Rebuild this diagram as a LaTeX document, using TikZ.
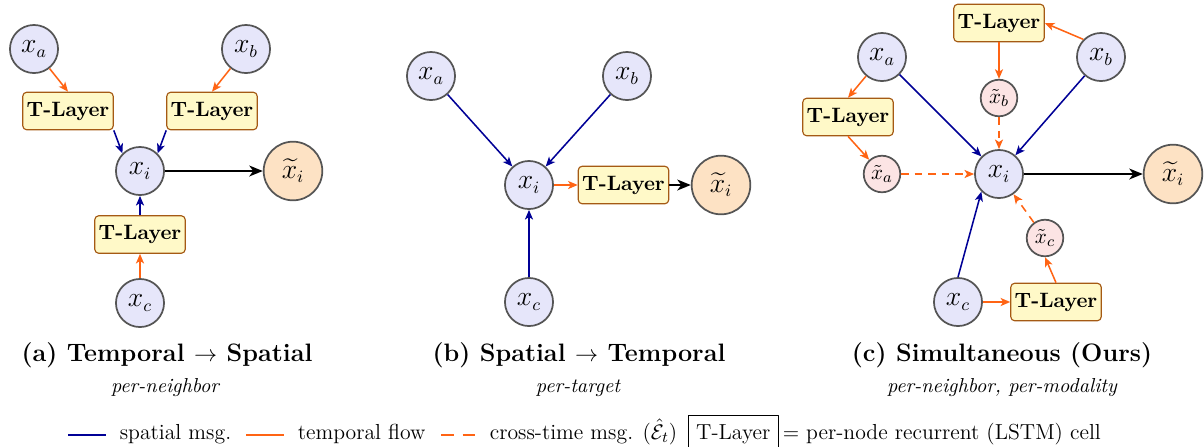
\documentclass[tikz,border=0pt]{standalone}
\usepackage{amsmath,amssymb}
\usetikzlibrary{arrows.meta}
\definecolor{nodegray}{RGB}{85,85,85}
\definecolor{nodefill}{RGB}{230,230,250}
\definecolor{outfill}{RGB}{253,226,196}
\definecolor{tilfill}{RGB}{252,228,228}
\definecolor{tlfill}{RGB}{255,249,200}
\definecolor{tlbrown}{RGB}{165,90,20}
\definecolor{spblue}{RGB}{0,0,150}
\definecolor{tporange}{RGB}{255,100,20}
\begin{document}
\begin{tikzpicture}[x=0.52pt,y=-0.52pt,line join=round,>={Stealth[length=5pt,width=4.2pt,inset=1.3pt]},
		nd/.style={circle,draw=nodegray,fill=nodefill,line width=0.9pt,minimum size=25pt,inner sep=0pt,font=\fontsize{13.5}{16}\selectfont},
		nout/.style={nd,fill=outfill,minimum size=30.5pt},
		ntil/.style={nd,fill=tilfill,minimum size=19pt,font=\fontsize{11}{13}\selectfont},
		tlayer/.style={draw=tlbrown,fill=tlfill,rounded corners=2pt,line width=0.6pt,minimum width=47pt,minimum height=19.5pt,inner xsep=1.5pt,font=\fontsize{10.8}{13}\selectfont\bfseries},
		sp/.style={->,draw=spblue,line width=0.8pt},
		tp/.style={->,draw=tporange,line width=0.8pt},
		ct/.style={tp,dash pattern=on 4pt off 3pt},
		res/.style={-{Stealth[length=7pt,width=5.6pt,inset=2pt]},line width=1.2pt},
		captxt/.style={font=\fontsize{13.1}{15}\selectfont\bfseries},
		subtxt/.style={font=\fontsize{10.5}{12}\selectfont\itshape},
		legtxt/.style={anchor=base west,font=\fontsize{11.3}{13}\selectfont}]
	\useasboundingbox (0,0) rectangle (1204,446);
	\node[nd] (xa1) at (34,49) {$x_a$};
	\node[nd] (xb1) at (246,49) {$x_b$};
	\node[tlayer] (tla1) at (68,111) {T-Layer};
	\node[tlayer] (tlb1) at (212,111) {T-Layer};
	\node[nd] (xi1) at (140,171) {$x_i$};
	\node[nout] (xo1) at (293,171) {$\widetilde{x}_i$};
	\node[tlayer] (tlc1) at (140,234.5) {T-Layer};
	\node[nd] (xc1) at (140,303) {$x_c$};
	\draw[tp] (xa1) -- (tla1.north);
	\draw[tp] (xb1) -- (tlb1.north);
	\draw[sp] (tla1.south east) -- (xi1.north west);
	\draw[sp] (tlb1.south west) -- (xi1.north east);
	\draw[sp] (tlc1) -- (xi1);
	\draw[tp] (xc1) -- (tlc1);
	\draw[res] (xi1) -- (xo1);

	\node[nd] (xa2) at (431,76) {$x_a$};
	\node[nd] (xb2) at (627,76) {$x_b$};
	\node[nd] (xi2) at (529,185) {$x_i$};
	\node[nd] (xc2) at (529,302) {$x_c$};
	\node[tlayer] (tl2) at (623.5,185) {T-Layer};
	\node[nout] (xo2) at (721,185) {$\widetilde{x}_i$};
	\draw[sp] (xa2) -- (xi2);
	\draw[sp] (xb2) -- (xi2);
	\draw[sp] (xc2) -- (xi2);
	\draw[tp] (xi2) -- (tl2);
	\draw[res] (tl2) -- (xo2);

	\node[tlayer] (tlb3) at (999,23) {T-Layer};
	\node[nd] (xa3) at (882,57) {$x_a$};
	\node[nd] (xb3) at (1101,57) {$x_b$};
	\node[ntil] (yb3) at (999,98) {$\tilde{x}_b$};
	\node[tlayer] (tla3) at (848,117) {T-Layer};
	\node[ntil] (ya3) at (882,174) {$\tilde{x}_a$};
	\node[nd] (xi3) at (999,174) {$x_i$};
	\node[nout] (xo3) at (1173,174) {$\widetilde{x}_i$};
	\node[ntil] (yc3) at (1045,238) {$\tilde{x}_c$};
	\node[nd] (xc3) at (958,302) {$x_c$};
	\node[tlayer] (tlc3) at (1056,302) {T-Layer};
	\draw[tp] (xb3.north west) -- (tlb3.east);
	\draw[tp] (tlb3) -- (yb3);
	\draw[ct] (yb3) -- (xi3);
	\draw[tp] (xa3) -- (tla3.north);
	\draw[tp] (tla3.south) -- (ya3);
	\draw[ct] (ya3) -- (xi3);
	\draw[sp] (xa3) -- (xi3);
	\draw[sp] (xb3) -- (xi3);
	\draw[sp] (xc3.north) -- (xi3.south west);
	\draw[tp] (xc3) -- (tlc3);
	\draw[tp] (tlc3.north) -- (yc3.south);
	\draw[ct] (yc3) -- (xi3);
	\draw[res] (xi3) -- (xo3);

	\node[captxt] (capa) at (167,355) {(a) Temporal $\rightarrow$ Spatial};
	\node[subtxt] (suba) at (165,388) {per-neighbor};
	\node[captxt] (capb) at (579,355) {(b) Spatial $\rightarrow$ Temporal};
	\node[subtxt] (subb) at (578,388) {per-target};
	\node[captxt] (capc) at (1002,355) {(c) Simultaneous (Ours)};
	\node[subtxt] (subc) at (1002,388) {per-neighbor, per-modality};

	\coordinate (l1s) at (68,435); \coordinate (l1e) at (106,435);
	\coordinate (l2s) at (246,435); \coordinate (l2e) at (284,435);
	\coordinate (l3s) at (441,435); \coordinate (l3e) at (475,435);
	\draw[spblue,line width=0.9pt] (l1s) -- (l1e);
	\draw[tporange,line width=0.9pt] (l2s) -- (l2e);
	\draw[tporange,line width=0.9pt,dash pattern=on 6.5pt off 4.7pt] (l3s) -- (l3e);
	\node[legtxt] (t1) at (113,439) {spatial msg.};
	\node[legtxt] (t2) at (291,439) {temporal flow};
	\node[legtxt] (t3) at (483,439) {cross-time msg. ($\hat{\mathcal{E}}_t$)};
	\node[legtxt,draw,fill=white,line width=0.5pt,inner xsep=4pt,inner ysep=4.5pt] (t4) at (688,439) {T-Layer};
	\node[legtxt,inner sep=2pt] (t5) at (t4.east|-t4.base) {$=$ per-node recurrent (LSTM) cell};
\end{tikzpicture}
\end{document}
